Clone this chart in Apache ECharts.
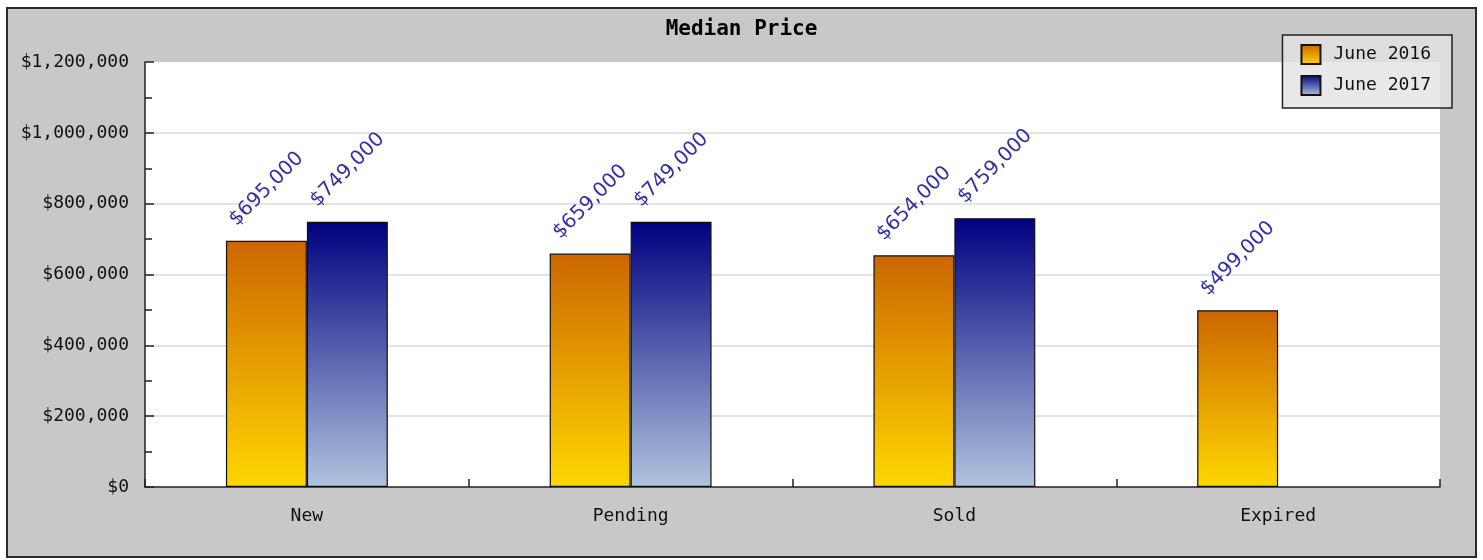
<!DOCTYPE html>
<html>
<head>
<meta charset="utf-8">
<title>Median Price</title>
<script src="https://cdn.jsdelivr.net/npm/echarts@6/dist/echarts.min.js"></script>
<style>
  html, body { margin: 0; padding: 0; background: #ffffff; }
  #frame {
    position: absolute; left: 6px; top: 7px;
    width: 1467px; height: 547px;
    border: 2px solid #2a2a2a; background: #c8c8c8;
  }
  #main { position: absolute; left: 0; top: 0; width: 1483px; height: 560px; }
</style>
</head>
<body>
<div id="frame"></div>
<div id="main"></div>
<script>
// Median listing price by status, June 2016 vs June 2017
const categories = ['New', 'Pending', 'Sold', 'Expired'];
const june2016 = [695000, 659000, 654000, 499000];
const june2017 = [749000, 749000, 759000, null];
const seriesNames = ['June 2016', 'June 2017'];

const MONO = '"DejaVu Sans Mono", monospace';
const money = v => '$' + Number(v).toLocaleString('en-US');

function vGrad(top, bottom) {
  return new echarts.graphic.LinearGradient(0, 0, 0, 1, [
    { offset: 0, color: top },
    { offset: 1, color: bottom }
  ]);
}

const barLabel = {
  show: true,
  position: [14, -11],
  rotate: 45,
  align: 'left',
  verticalAlign: 'bottom',
  fontFamily: '"DejaVu Sans", sans-serif',
  fontSize: 20,
  color: '#3232a6',
  formatter: p => money(p.value)
};

const chart = echarts.init(document.getElementById('main'), null, { renderer: 'canvas' });
chart.setOption({
  backgroundColor: 'transparent',
  animation: false,
  title: {
    text: 'Median Price',
    left: 'center',
    top: 14,
    textStyle: { fontFamily: MONO, fontWeight: 'bold', fontSize: 21, color: '#000' }
  },
  legend: {
    data: seriesNames,
    orient: 'vertical',
    right: 31,
    top: 35,
    padding: [9, 21, 12, 18],
    itemWidth: 19,
    itemHeight: 19,
    itemGap: 10,
    icon: 'rect',
    backgroundColor: 'rgba(227,227,227,0.82)',
    borderColor: '#222',
    borderWidth: 1.5,
    borderRadius: 0,
    textStyle: { fontFamily: MONO, fontSize: 18, color: '#111', padding: [0, 0, 0, 8] }
  },
  grid: {
    left: 145, top: 62, right: 43, bottom: 73,
    show: true, backgroundColor: '#ffffff', borderWidth: 0,
    containLabel: false
  },
  xAxis: {
    type: 'category',
    data: categories,
    boundaryGap: true,
    axisLine: { show: true, lineStyle: { color: '#222', width: 1.5 } },
    axisTick: { show: true, inside: true, length: 8, lineStyle: { color: '#222', width: 1.5 } },
    axisLabel: { margin: 20, fontFamily: MONO, fontSize: 18, color: '#111' },
    splitLine: { show: false }
  },
  yAxis: {
    type: 'value',
    min: 0,
    max: 1200000,
    interval: 200000,
    axisLine: { show: true, lineStyle: { color: '#222', width: 1.5 } },
    axisTick: { show: true, inside: true, length: 9, lineStyle: { color: '#222', width: 1.5 } },
    minorTick: { show: true, splitNumber: 2, length: 7, lineStyle: { color: '#222', width: 1.5 } },
    axisLabel: { margin: 16, fontFamily: MONO, fontSize: 18, color: '#111', padding: [5, 0, 0, 0], formatter: money },
    splitLine: { show: true, showMinLine: false, showMaxLine: false, lineStyle: { color: '#e4e4e4', width: 2 } }
  },
  series: [
    {
      name: seriesNames[0],
      type: 'bar',
      data: june2016,
      barGap: '0%',
      barCategoryGap: '50%',
      itemStyle: { color: vGrad('#cc6600', '#ffd700'), borderColor: '#111', borderWidth: 1.2 },
      label: barLabel
    },
    {
      name: seriesNames[1],
      type: 'bar',
      data: june2017,
      barGap: '0%',
      barCategoryGap: '50%',
      itemStyle: { color: vGrad('#000080', '#b0c4de'), borderColor: '#111', borderWidth: 1.2 },
      label: barLabel
    }
  ]
});
</script>
</body>
</html>
